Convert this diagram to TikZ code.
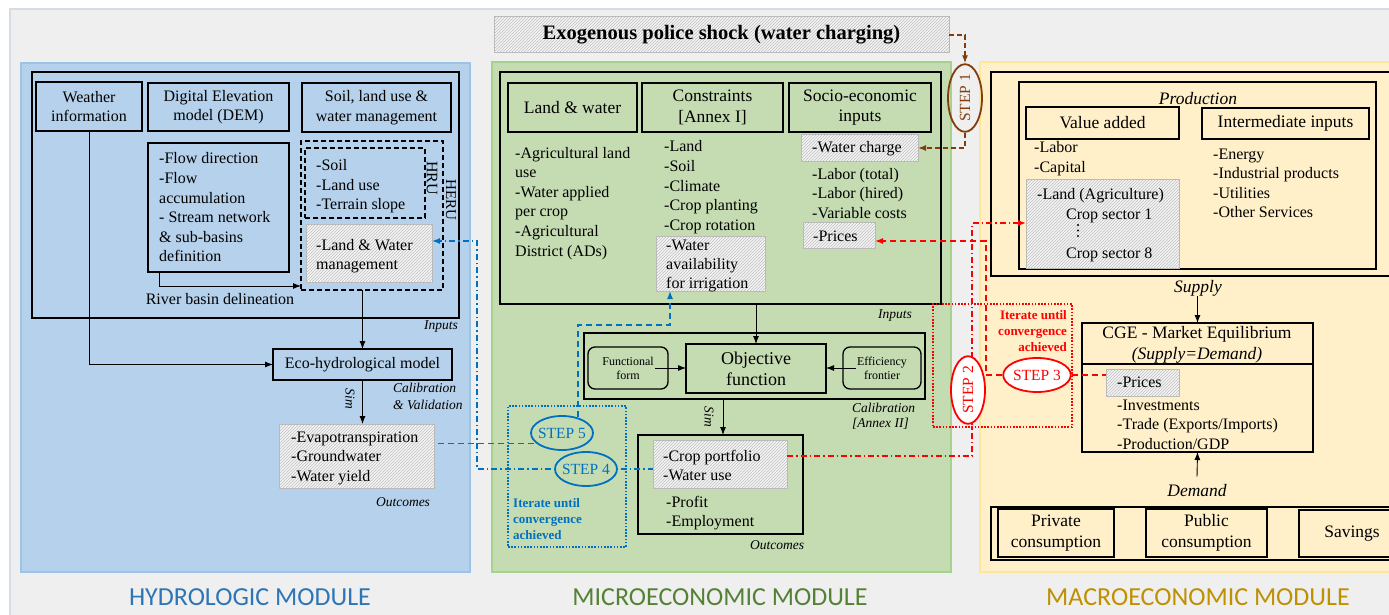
\documentclass[tikz,border=0pt]{standalone}
\usepackage{fontspec}
\setmainfont{Liberation Serif}
\newfontfamily\calib{Carlito}
\usetikzlibrary{fit,shapes.geometric,arrows.meta,patterns,calc}
\definecolor{bgc}{RGB}{239,239,239}
\definecolor{topl}{RGB}{214,220,228}
\definecolor{bluep}{RGB}{181,209,235}
\definecolor{bluepd}{RGB}{157,195,230}
\definecolor{greenp}{RGB}{197,220,179}
\definecolor{greenpd}{RGB}{169,209,142}
\definecolor{yellowp}{RGB}{255,240,201}
\definecolor{yellowpd}{RGB}{255,230,153}
\definecolor{hblue}{RGB}{46,117,182}
\definecolor{mgreen}{RGB}{84,130,53}
\definecolor{mgold}{RGB}{191,144,0}
\definecolor{bline}{RGB}{0,112,192}
\definecolor{rline}{RGB}{255,0,0}
\definecolor{brown}{RGB}{132,60,12}
\newcommand\fsz{\fontsize{16}{19.5}\selectfont}
\newcommand\fszb{\fontsize{17.5}{20.5}\selectfont}
\newcommand\fitl{\fontsize{13.5}{16}\selectfont\itshape}
\newcommand\fitlb{\fontsize{17.5}{20}\selectfont\itshape}
\newcommand\itemlist[5]{%
  \foreach \t [count=\i] in {#5} {\node[txt] (#1\i) at (#2,{#3+#4*(\i-1)}) {\t};}}
\begin{document}
\begin{tikzpicture}[x=1pt,y=-1pt,
  panel/.style={line width=1.2pt, inner sep=0pt, outer sep=0pt},
  box/.style={draw=black, line width=1.3pt, inner sep=0pt, outer sep=0pt},
  rbox/.style={box, rounded corners=7pt},
  bt/.style={inner sep=0pt, align=center, font=\fsz},
  btb/.style={inner sep=0pt, align=center, font=\fszb},
  bts/.style={inner sep=0pt, align=center, font=\fontsize{12}{14}\selectfont},
  hatch/.style={draw=gray!55, line width=1pt, fill=gray!8, postaction={pattern=north east lines, pattern color=gray!50}, inner sep=0pt, outer sep=0pt},
  dashbox/.style={draw=black, line width=1.4pt, dash pattern=on 5pt off 3pt, inner sep=0pt, outer sep=0pt},
  txt/.style={font=\fsz, inner sep=0pt, anchor=base west},
  itl/.style={font=\fitl, inner sep=0pt},
  itlb/.style={font=\fitlb, inner sep=0pt},
  conn/.style={draw=black, line width=0.9pt},
  arr/.style={conn, -{Latex[length=8pt,width=6pt]}},
  bdash/.style={draw=bline, line width=1.3pt, dash pattern=on 6pt off 4pt},
  bdd/.style={draw=bline, line width=1.3pt, dash pattern=on 6pt off 3pt on 1.5pt off 3pt},
  rdash/.style={draw=rline, line width=1.3pt, dash pattern=on 6pt off 4pt},
  rdd/.style={draw=rline, line width=1.3pt, dash pattern=on 6pt off 3pt on 1.5pt off 3pt},
  brdash/.style={draw=brown, line width=1.3pt, dash pattern=on 5pt off 3pt},
  carr/.style={-{Latex[length=8pt,width=6pt]}},
  bdot/.style={draw=bline, line width=1.6pt, dash pattern=on 1.6pt off 1.6pt, inner sep=0pt, outer sep=0pt},
  rdot/.style={draw=rline, line width=1.6pt, dash pattern=on 1.6pt off 1.6pt, inner sep=0pt, outer sep=0pt},
  stepe/.style={ellipse, line width=1.8pt, minimum width=62pt, minimum height=34pt, inner sep=0pt, font=\fontsize{15.5}{18}\selectfont},
  itb/.style={font=\fontsize{13}{16}\selectfont\bfseries, inner sep=0pt},
  modlbl/.style={font=\calib\fontsize{26}{30}\selectfont, inner sep=0pt}
]
\useasboundingbox (0,0) rectangle (1389,615);
\clip (0,0) rectangle (1389,615);
\fill[white] (0,0) rectangle (1389,615);
\fill[bgc] (10,9) rectangle (1389,615);
\draw[topl, line width=1.2pt] (10,615) -- (10,9) -- (1389,9);

% panels
\node[panel, fill=bluep, draw=bluepd, fit={(21,63)(470,572)}] (hydro) {};
\node[panel, fill=greenp, draw=greenpd, fit={(492,62)(951,572)}] (micro) {};
\node[panel, fill=yellowp, draw=yellowpd, fit={(980,62)(1400,572)}] (macro) {};

% shock
\node[hatch, fit={(494,17)(949,53)}] (shock) {};
\node[inner sep=0pt, font=\fontsize{20.5}{24}\selectfont\bfseries] (shockt) at (shock.center) {Exogenous police shock (water charging)};

% ---------------- hydrologic
\node[box, fit={(32,72)(459,318)}] (hin) {};
\node[box, fit={(36,82)(142,131)}] (weather) {};
\node[bt] (weathert) at (weather.center) {Weather\\information};
\node[box, fit={(148,83)(289,131)}] (dem) {};
\node[bt] (demt) at (dem.center) {Digital Elevation\\model (DEM)};
\node[box, fit={(302,83)(451,132)}] (soil) {};
\node[bt] (soilt) at (soil.center) {Soil, land use \&\\water management};
\node[box, fit={(148,143)(289,272)}] (flow) {};
\itemlist{fl}{159}{164}{19.5}{-Flow direction,-Flow,accumulation,- Stream network,\& sub-basins,definition}
\node[dashbox, fit={(301,141)(443,290)}] (heru) {};
\node[dashbox, fit={(305,148)(425,218)}] (hru) {};
\itemlist{hr}{316}{171}{19.3}{-Soil,-Land use,-Terrain slope}
\node[font=\fsz, inner sep=0pt, rotate=-90] (hrul) at (432,178) {HRU};
\node[font=\fontsize{15}{18}\selectfont, inner sep=0pt, rotate=-90] (herul) at (451,200) {HERU};
\node[hatch, fit={(306,224)(432,282)}] (lwm) {};
\itemlist{lm}{316}{250}{19.5}{-Land \& Water,management}
\draw[arr] ([xshift=11pt]flow.south west) |- ([yshift=4pt]heru.south west);
\node[font=\fsz, inner sep=0pt] (rbd) at (220,299) {River basin delineation};
\node[box, fit={(273,349)(452,380)}] (eco) {};
\node[bt] (ecot) at (eco.center) {Eco-hydrological model};
\draw[arr] (weather.south) |- (eco.west);
\draw[arr] (heru.south -| eco.north) -- (eco.north);
\node[itl, anchor=east] (hinl) at (458,327) {Inputs};
\node[hatch, fit={(279,424)(434,488)}] (hout) {};
\itemlist{ho}{291}{442}{19.5}{-Evapotranspiration,-Groundwater,-Water yield}
\draw[arr] (eco.south) -- (eco.south |- hout.north);
\node[itl, rotate=-90] (hsim) at (350,399) {Sim};
\node[itl, anchor=west] (hcal1) at (393,388) {Calibration};
\node[itl, anchor=west] (hcal2) at (393,405) {\& Validation};
\node[itl] (houtl) at (403,502) {Outcomes};

% ---------------- microeconomic
\node[box, fit={(500,72)(941,304)}] (min) {};
\node[box, fit={(508,83)(637,132)}] (lw) {};
\node[btb] (lwt) at (lw.center) {Land \& water};
\node[box, fit={(642,83)(783,132)}] (constr) {};
\node[btb] (constrt) at (constr.center) {Constraints\\{}[Annex I]};
\node[box, fit={(789,83)(931,132)}] (socio) {};
\node[btb] (sociot) at (socio.center) {Socio-economic\\inputs};
\itemlist{lwl}{515}{158}{19.6}{-Agricultural land,use,-Water applied,per crop,-Agricultural,District (ADs)}
\itemlist{cl}{664}{152}{19.5}{-Land,-Soil,-Climate,-Crop planting,-Crop rotation}
\node[hatch, fit={(656,236)(765,291)}] (wavail) {};
\itemlist{wa}{666}{250}{19.2}{-Water,availability,for irrigation}
\node[hatch, fit={(801,135)(918,161)}] (wch) {};
\node[txt] (wcht) at (812,153) {-Water charge};
\itemlist{lab}{812}{179}{19.5}{-Labor (total),-Labor (hired),-Variable costs}
\node[hatch, fit={(803,222)(875,248)}] (mprice) {};
\node[txt] (mpricet) at (813,241) {-Prices};
\node[itl, anchor=east] (minl) at (912,316) {Inputs};

\node[box, fit={(584,333)(925,399)}] (calib) {};
\node[box, fit={(686,344)(826,393)}] (obj) {};
\node[inner sep=0pt, align=center, font=\fontsize{18}{21}\selectfont] (objt) at (obj.center) {Objective\\function};
\node[rbox, fit={(588,347)(668,389)}] (ff) {};
\node[bts] (fft) at (ff.center) {Functional\\form};
\node[rbox, fit={(843,347)(921,389)}] (ef) {};
\node[bts] (eft) at (ef.center) {Efficiency\\frontier};
\draw[arr] ([xshift=-13pt]ff.east) -- (ff.east -| obj.west);
\draw[arr] ([xshift=13pt]ef.west) -- (ef.west -| obj.east);
\draw[arr] (min.south -| obj.north) -- (obj.north);
\node[itl, anchor=west] (mcal1) at (852,408) {Calibration};
\node[itl, anchor=west] (mcal2) at (852,424) {[Annex II]};
\node[box, fit={(638,435)(803,534)}] (mout) {};
\node[hatch, fit={(653,440)(787,488)}] (crop) {};
\itemlist{cr}{663}{461}{19.5}{-Crop portfolio,-Water use}
\itemlist{pr}{666}{507}{19.5}{-Profit,-Employment}
\draw[arr] ([xshift=-31.5pt]calib.south) -- ([xshift=-31.5pt]calib.south |- mout.north);
\node[itl, rotate=-90] (msim) at (709,417) {Sim};
\node[itl] (moutl) at (777,545) {Outcomes};

% blue iterate
\node[bdot, fit={(508,406)(626,547)}] (bit) {};
\node[itb, text=bline, anchor=base west] (bit1) at (513,507.5) {Iterate until};
\node[itb, text=bline, anchor=base west] (bit2) at (513,523.5) {convergence};
\node[itb, text=bline, anchor=base west] (bit3) at (513,539.5) {achieved};
\node[stepe, text=bline] (s5) at (562,433) {STEP 5};
\node[stepe, text=bline] (s4) at (586,469) {STEP 4};
\coordinate (b5) at (670,325);
\coordinate (b4) at (477,469);
\draw[bdash] (s5.200) -- (s5.200 -| hout.east);
\draw[bdash, carr] (s5.45) |- (b5) -- (b5 |- wavail.south);
\draw[bdd] (s4.east) -- (s4.east -| crop.west);
\draw[bdd, carr] (s4.west) -- (b4) |- ([yshift=12pt]lwm.east);
\draw[bline, line width=1.8pt] (s5) ellipse [x radius=31pt, y radius=17pt];
\draw[bline, line width=1.8pt] (s4) ellipse [x radius=31pt, y radius=17pt];

% ---------------- macroeconomic
\node[box, fit={(991,72)(1420,276)}] (pin) {};
\node[box, fit={(1019,82)(1376,269)}] (prod) {};
\node[itlb] (prodl) at (1198,99) {Production};
\node[box, fit={(1026,107)(1179,139)}] (va) {};
\node[btb] (vat) at (va.center) {Value added};
\node[box, fit={(1202,108)(1369,139)}] (ii) {};
\node[btb] (iit) at (ii.center) {Intermediate inputs};
\itemlist{val}{1034}{153}{19.5}{-Labor,-Capital}
\node[hatch, fit={(1026,179)(1179,268)}] (landh) {};
\node[txt] (la1) at (1037,199) {-Land (Agriculture)};
\node[txt] (la2) at (1066,219) {Crop sector 1};
\fill (1078,225) circle (1.1pt) (1078,230.5) circle (1.1pt) (1078,236) circle (1.1pt);
\node[txt] (la4) at (1066,258) {Crop sector 8};
\itemlist{iil}{1213}{159}{19.5}{-Energy,-Industrial products,-Utilities,-Other Services}
\node[itlb] (sup) at (1198,288) {Supply};
\node[box, fit={(1082,323)(1313,452)}] (cge) {};
\draw[line width=1.3pt] ([yshift=-41pt]cge.north west) -- ([yshift=-41pt]cge.north east);
\node[font=\fszb, inner sep=0pt] (cget1) at (1197,334) {CGE - Market Equilibrium};
\node[font=\fszb\itshape, inner sep=0pt] (cget2) at (1197,355) {(Supply=Demand)};
\draw[arr] (sup.south -| cge.north) -- (cge.north);
\node[hatch, fit={(1106,369)(1179,396)}] (cprice) {};
\node[txt] (cpt) at (1117,387) {-Prices};
\itemlist{cg}{1117}{410}{19.5}{-Investments,-Trade (Exports/Imports),-Production/GDP}
\node[itlb] (dmd) at (1197,491) {Demand};
\draw[arr] ([yshift=8pt]dmd.north) -- (cge.south);
\node[box, fit={(991,507)(1420,560)}] (consum) {};
\node[box, fit={(998,509)(1114,557)}] (priv) {};
\node[btb] (privt) at (priv.center) {Private\\consumption};
\node[box, fit={(1146,509)(1267,557)}] (pub) {};
\node[btb] (pubt) at (pub.center) {Public\\consumption};
\node[box, fit={(1299,510)(1405,557)}] (sav) {};
\node[btb] (savt) at (sav.center) {Savings};

% red iterate
\node[rdot, fit={(933,304)(1072,427)}] (rit) {};
\node[itb, text=rline, anchor=base east] (rit1) at (1067,319) {Iterate until};
\node[itb, text=rline, anchor=base east] (rit2) at (1067,335.5) {convergence};
\node[itb, text=rline, anchor=base east] (rit3) at (1067,351) {achieved};
\coordinate (r2) at (972,456);
\coordinate (r2t) at (972,223);
\coordinate (r3) at (986,241);
\draw[rdd, carr] (crop.east |- r2) -- (r2) -- (r2t) -- (r2t -| landh.west);
\node[stepe, draw=rline, fill=white, text=rline, rotate=90] (s2) at (968,390) {STEP 2};
\node[stepe, draw=rline, fill=white, text=rline] (s3) at (1037,375) {STEP 3};
\draw[rdash, carr] (s3.west) -| (r3) -- (r3 -| mprice.east);
\draw[rdash] (s3.east) -- (s3.east -| cprice.west);

% brown step 1
\node[stepe, draw=brown, text=brown, rotate=90] (s1) at (965,98) {STEP 1};
\draw[brdash, carr] (shock.east) -| (s1.east);
\draw[brdash, carr] (s1.west) |- (wch.east);

% module labels
\node[modlbl, text=hblue] (hl) at (250,597) {HYDROLOGIC MODULE};
\node[modlbl, text=mgreen] (ml) at (720,597) {MICROECONOMIC MODULE};
\node[modlbl, text=mgold] (mal) at (1198,597) {MACROECONOMIC MODULE};
\end{tikzpicture}
\end{document}
